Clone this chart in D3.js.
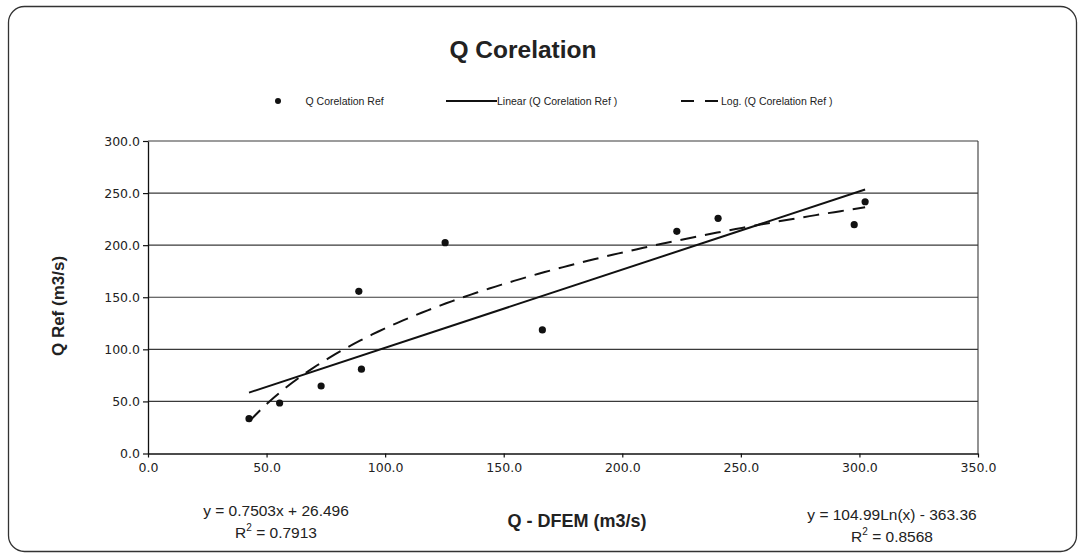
<!DOCTYPE html>
<html><head><meta charset="utf-8">
<script src="https://cdn.jsdelivr.net/npm/d3@7/dist/d3.min.js"></script>
<style>body{margin:0;background:#fff}svg{display:block}</style>
</head><body><svg id="c" width="1085" height="560"></svg>
<script>
// Data
const xValues = [42.6, 55.5, 73.0, 88.9, 90.0, 125.3, 166.3, 223.0, 240.4, 297.8, 302.4];
const yValues = [33.4, 48.5, 64.8, 155.7, 81.0, 202.4, 118.6, 213.3, 225.8, 219.7, 241.7];
const xTicks = [0, 50, 100, 150, 200, 250, 300, 350];
const yTicks = [0, 50, 100, 150, 200, 250, 300];
const linearCoef = [0.7503, 26.496];   // slope, intercept
const logCoef = [104.99, -363.36];     // a*ln(x)+b
const legendLabels = ["Q Corelation Ref", "Linear (Q Corelation Ref )", "Log. (Q Corelation Ref )"];
const titleText = "Q Corelation";
const xTitle = "Q - DFEM (m3/s)";
const yTitle = "Q Ref (m3/s)";

const svg = d3.select("#c");
const L = 148, R = 978, T = 141, B = 453.5;
const x = d3.scaleLinear().domain([0, 350]).range([L, R]);
const y = d3.scaleLinear().domain([0, 300]).range([B, T]);
const arial = "'Liberation Sans', Arial, sans-serif";
const verd = "'DejaVu Sans', Verdana, sans-serif";

// outer rounded border
svg.append("rect").attr("x", 8.5).attr("y", 6.5).attr("width", 1068).attr("height", 545)
  .attr("rx", 16).attr("ry", 16).attr("fill", "#fff").attr("stroke", "#333").attr("stroke-width", 1.3);

// title
svg.append("text").attr("x", 523).attr("y", 58).attr("text-anchor", "middle")
  .attr("font-family", arial).attr("font-weight", "bold").attr("font-size", 24.5)
  .attr("fill", "#222").text(titleText);

// gridlines
svg.append("g").selectAll("line").data(yTicks.filter(d => d > 0)).join("line")
  .attr("x1", L).attr("x2", R).attr("y1", d => y(d)).attr("y2", d => y(d))
  .attr("stroke", "#3a3a3a").attr("stroke-width", 1.1);
// right border
svg.append("line").attr("x1", R).attr("x2", R).attr("y1", T).attr("y2", B)
  .attr("stroke", "#3a3a3a").attr("stroke-width", 1.1);

// axes
const yAxis = d3.axisLeft(y).tickValues(yTicks).tickFormat(d3.format(".1f")).tickSizeInner(5).tickSizeOuter(0).tickPadding(3);
const gy = svg.append("g").attr("transform", `translate(${L},0)`).call(yAxis);
const xAxis = d3.axisBottom(x).tickValues(xTicks).tickFormat(d3.format(".1f")).tickSizeInner(4).tickSizeOuter(0).tickPadding(6);
const gx = svg.append("g").attr("transform", `translate(0,${B})`).call(xAxis);
[gx, gy].forEach(g => {
  g.select(".domain").attr("stroke", "#111").attr("stroke-width", 1.3);
  g.selectAll(".tick line").attr("stroke", "#111").attr("stroke-width", 1.2);
  g.selectAll("text").attr("font-family", verd).attr("font-size", 12.5).attr("fill", "#222");
});

// trend lines
const xMin = d3.min(xValues), xMax = d3.max(xValues);
const lin = d3.line().x(d => x(d)).y(d => y(linearCoef[0] * d + linearCoef[1]));
svg.append("path").datum([xMin, xMax]).attr("d", lin)
  .attr("fill", "none").attr("stroke", "#111").attr("stroke-width", 2);
const xs = d3.range(0, 101).map(i => xMin + (xMax - xMin) * i / 100);
const lg = d3.line().x(d => x(d)).y(d => y(logCoef[0] * Math.log(d) + logCoef[1]));
svg.append("path").datum(xs).attr("d", lg)
  .attr("fill", "none").attr("stroke", "#111").attr("stroke-width", 2).attr("stroke-dasharray", "16,9");

// points
svg.append("g").selectAll("circle").data(xValues.map((v, i) => [v, yValues[i]])).join("circle")
  .attr("cx", d => x(d[0])).attr("cy", d => y(d[1])).attr("r", 3.6).attr("fill", "#111");

// legend
const lgY = 101;
const legend = svg.append("g").attr("font-family", arial).attr("font-size", 10.5).attr("fill", "#222");
legend.append("circle").attr("cx", 278).attr("cy", lgY).attr("r", 3).attr("fill", "#111");
legend.append("text").attr("x", 305.5).attr("y", lgY + 3.6).text(legendLabels[0]);
legend.append("line").attr("x1", 446).attr("x2", 497).attr("y1", lgY).attr("y2", lgY).attr("stroke", "#111").attr("stroke-width", 1.8);
legend.append("text").attr("x", 497).attr("y", lgY + 3.6).text(legendLabels[1]);
legend.append("line").attr("x1", 681).attr("x2", 719).attr("y1", lgY).attr("y2", lgY).attr("stroke", "#111").attr("stroke-width", 2.2).attr("stroke-dasharray", "13,11");
legend.append("text").attr("x", 721).attr("y", lgY + 3.6).text(legendLabels[2]);

// axis titles
svg.append("text").attr("x", 577).attr("y", 527).attr("text-anchor", "middle")
  .attr("font-family", arial).attr("font-weight", "bold").attr("font-size", 18).attr("fill", "#222").text(xTitle);
svg.append("text").attr("transform", "translate(64,306) rotate(-90)").attr("text-anchor", "middle")
  .attr("font-family", arial).attr("font-weight", "bold").attr("font-size", 17).attr("fill", "#222").text(yTitle);

// equations
function eq(cx, y1, line1, r2) {
  const g = svg.append("g").attr("font-family", arial).attr("font-size", 15.5).attr("fill", "#222").attr("text-anchor", "middle");
  g.append("text").attr("x", cx).attr("y", y1).text(line1);
  const t = g.append("text").attr("x", cx).attr("y", y1 + 22);
  t.append("tspan").text("R");
  t.append("tspan").attr("font-size", 10).attr("dy", -7).text("2");
  t.append("tspan").attr("dy", 7).text(" = " + r2);
}
eq(276, 516, `y = ${linearCoef[0]}x + ${linearCoef[1]}`, "0.7913");
eq(892, 520, `y = ${logCoef[0]}Ln(x) - ${Math.abs(logCoef[1])}`, "0.8568");
</script></body></html>
